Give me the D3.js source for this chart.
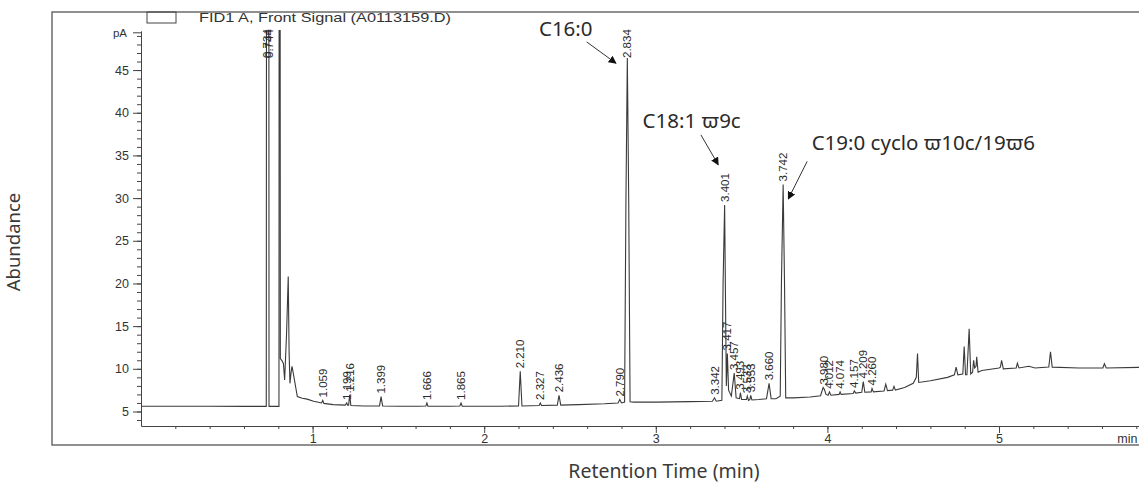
<!DOCTYPE html>
<html>
<head>
<meta charset="utf-8">
<script src="https://cdn.jsdelivr.net/npm/d3@7/dist/d3.min.js"></script>
<style>
  body { margin: 0; background: #fff; }
  svg { display: block; }
  .axis path, .axis line { stroke: #444; }
  .axis text { font-family: "Liberation Sans", Arial, sans-serif; font-size: 12.5px; fill: #333; }
</style>
</head>
<body>
<div id="chart"></div>
<script>
// chromatogram trace: [retention time (min), signal (pA)]
const trace = [
  [0.00, 5.62], [0.40, 5.62], [0.60, 5.60], [0.730, 5.60],
  [0.733, 120], [0.744, 120], [0.746, 5.60], [0.804, 5.60],
  [0.806, 120], [0.809, 120], [0.812, 11.2], [0.823, 10.9], [0.830, 10.6],
  [0.837, 8.7], [0.848, 14.0], [0.858, 20.8], [0.863, 12.0], [0.868, 8.3],
  [0.874, 9.5], [0.880, 10.3], [0.888, 9.4], [0.901, 7.9], [0.911, 6.75],
  [0.940, 6.55], [0.968, 6.45], [1.006, 6.20], [1.040, 6.05], [1.052, 6.00],
  [1.059, 6.30], [1.066, 5.95], [1.120, 5.80], [1.190, 5.75], [1.199, 6.00],
  [1.205, 5.72], [1.210, 5.75], [1.216, 6.95], [1.223, 5.70], [1.300, 5.65],
  [1.390, 5.65], [1.399, 6.75], [1.408, 5.65], [1.500, 5.62], [1.620, 5.62],
  [1.660, 5.65], [1.666, 6.00], [1.672, 5.62], [1.800, 5.62], [1.858, 5.65],
  [1.865, 6.00], [1.872, 5.62], [2.000, 5.62], [2.100, 5.62], [2.200, 5.65],
  [2.210, 9.70], [2.220, 5.65], [2.320, 5.70], [2.327, 6.00], [2.334, 5.70],
  [2.426, 5.75], [2.436, 6.90], [2.446, 5.75], [2.550, 5.80], [2.700, 5.90],
  [2.780, 6.00], [2.790, 6.40], [2.800, 6.00], [2.818, 6.10], [2.826, 30.0],
  [2.834, 46.4], [2.842, 30.0], [2.850, 6.15], [2.870, 6.10], [3.000, 6.10],
  [3.200, 6.15], [3.330, 6.20], [3.342, 6.60], [3.352, 6.20], [3.385, 6.30],
  [3.392, 20.0], [3.401, 29.2], [3.408, 14.0], [3.411, 8.0], [3.417, 11.8],
  [3.424, 7.5], [3.440, 6.8], [3.457, 9.5], [3.468, 6.6], [3.488, 6.5],
  [3.493, 7.2], [3.500, 6.4], [3.528, 6.4], [3.533, 6.8], [3.540, 6.3],
  [3.548, 6.4], [3.553, 6.9], [3.560, 6.35], [3.600, 6.40], [3.645, 6.50],
  [3.660, 8.30], [3.672, 6.50], [3.700, 6.50], [3.725, 6.80], [3.732, 20.0],
  [3.742, 31.6], [3.750, 20.0], [3.757, 6.60], [3.800, 6.60], [3.900, 6.70],
  [3.960, 6.85], [3.975, 7.80], [3.982, 7.60], [3.992, 7.00], [4.004, 6.90],
  [4.012, 7.30], [4.020, 6.90], [4.068, 7.00], [4.074, 7.30], [4.080, 7.00],
  [4.150, 7.10], [4.157, 7.40], [4.165, 7.15], [4.200, 7.25], [4.209, 8.50],
  [4.218, 7.25], [4.255, 7.30], [4.260, 7.70], [4.268, 7.30], [4.330, 7.40],
  [4.340, 8.20], [4.350, 7.45], [4.380, 7.50], [4.388, 7.95], [4.396, 7.50],
  [4.450, 7.80], [4.500, 8.30], [4.518, 9.00], [4.525, 11.8], [4.532, 8.40],
  [4.600, 8.60], [4.700, 9.00], [4.740, 9.30], [4.750, 10.2], [4.760, 9.30],
  [4.789, 9.40], [4.797, 12.6], [4.805, 9.30], [4.813, 9.30], [4.826, 14.7],
  [4.835, 9.40], [4.846, 9.60], [4.852, 11.0], [4.858, 10.1], [4.866, 10.3],
  [4.870, 11.4], [4.878, 9.60], [4.900, 9.80], [5.000, 10.1], [5.008, 10.2],
  [5.015, 11.0], [5.025, 10.0], [5.100, 10.1], [5.107, 10.66], [5.116, 10.1],
  [5.174, 10.3], [5.210, 10.1], [5.290, 10.2], [5.300, 12.0], [5.310, 10.2],
  [5.465, 10.1], [5.605, 10.1], [5.614, 10.6], [5.625, 10.1], [5.900, 10.2]
];

// integrated peaks: retention time and apex height (pA)
const peakTimes = [0.734, 0.744, 1.059, 1.199, 1.216, 1.399, 1.666, 1.865, 2.210, 2.327,
  2.436, 2.790, 2.834, 3.342, 3.401, 3.417, 3.457, 3.493, 3.533, 3.553, 3.660, 3.742,
  3.980, 4.012, 4.074, 4.157, 4.209, 4.260];
const peakHeights = [49.6, 49.6, 6.30, 6.00, 6.95, 6.75, 6.00, 6.00, 9.70, 6.00,
  6.90, 6.40, 46.4, 6.60, 29.2, 11.8, 9.5, 7.2, 6.8, 6.9, 8.30, 31.6,
  7.80, 7.30, 7.30, 7.40, 8.50, 7.70];

// compound annotations: text anchor, arrow start, arrow tip (min, pA)
const annLabels = ["C16:0", "C18:1 \u03d69c", "C19:0 cyclo \u03d610c/19\u03d66"];
const annTextPos = [[2.319, 49.8], [2.923, 39.0], [3.908, 36.5]];
const annArrowFrom = [[2.597, 48.3], [3.263, 37.4], [3.882, 34.3]];
const annArrowTo = [[2.768, 45.8], [3.364, 33.9], [3.772, 29.9]];

const xMajorTicks = [1, 2, 3, 4, 5];
const xMinorTicks = d3.range(0.2, 5.81, 0.2);
const yMajorTicks = [5, 10, 15, 20, 25, 30, 35, 40, 45];
const yMinorTicks = d3.range(4, 50, 1);

const W = 1139, H = 486;
const svg = d3.select("#chart").append("svg")
  .attr("width", W).attr("height", H);

const x = d3.scaleLinear().domain([0, 5.86]).range([141, 1146.6]);
const y = d3.scaleLinear().domain([3.3, 49.6]).range([426, 30.8]);

// outer frame of the report
svg.append("rect")
  .attr("x", 52).attr("y", 12)
  .attr("width", W).attr("height", 433)
  .attr("fill", "none").attr("stroke", "#555").attr("stroke-width", 1.3);

// legend
svg.append("rect")
  .attr("x", 147).attr("y", 12).attr("width", 29).attr("height", 11)
  .attr("fill", "none").attr("stroke", "#444").attr("stroke-width", 1);
svg.append("text")
  .attr("x", 199).attr("y", 22)
  .attr("font-family", "Liberation Sans, Arial, sans-serif")
  .attr("font-size", 13).attr("fill", "#333")
  .attr("textLength", 252).attr("lengthAdjust", "spacingAndGlyphs")
  .text("FID1 A, Front Signal (A0113159.D)");

// axes
svg.append("g").attr("class", "axis")
  .attr("transform", `translate(${x(0)},0)`)
  .call(d3.axisLeft(y).tickValues(yMinorTicks).tickSize(4).tickFormat(""))
  .call(g => g.select(".domain").remove());
svg.append("g").attr("class", "axis")
  .attr("transform", `translate(${x(0)},0)`)
  .call(d3.axisLeft(y).tickValues(yMajorTicks).tickSize(8).tickPadding(4).tickSizeOuter(0));
svg.append("text")
  .attr("x", x(0) - 14).attr("y", y(y.domain()[1]) + 6)
  .attr("text-anchor", "end")
  .attr("font-family", "Liberation Sans, Arial, sans-serif")
  .attr("font-size", 11.5).attr("fill", "#333")
  .text("pA");
svg.append("line")
  .attr("x1", x(0) - 8).attr("x2", x(0))
  .attr("y1", y(y.domain()[1]) + 2).attr("y2", y(y.domain()[1]) + 2)
  .attr("stroke", "#444");

svg.append("g").attr("class", "axis")
  .attr("transform", `translate(0,${y(3.3)})`)
  .call(d3.axisBottom(x).tickValues(xMinorTicks).tickSize(3).tickFormat(""))
  .call(g => g.select(".domain").remove());
svg.append("g").attr("class", "axis")
  .attr("transform", `translate(0,${y(3.3)})`)
  .call(d3.axisBottom(x).tickValues(xMajorTicks).tickSize(7).tickPadding(1)
    .tickFormat(d3.format("d")).tickSizeOuter(0));
svg.append("text")
  .attr("x", x(5.8) - 19).attr("y", y(3.3) + 17)
  .attr("font-family", "Liberation Sans, Arial, sans-serif")
  .attr("font-size", 12.5).attr("fill", "#333")
  .text("min");

// trace
svg.append("clipPath").attr("id", "plot-clip")
  .append("rect").attr("x", x(0)).attr("y", 30)
  .attr("width", W).attr("height", y(3.3) - 30);

svg.append("path")
  .datum(trace)
  .attr("clip-path", "url(#plot-clip)")
  .attr("fill", "none")
  .attr("stroke", "#3a3a3a")
  .attr("stroke-width", 1.1)
  .attr("d", d3.line().x(d => x(d[0])).y(d => y(d[1])));

// peak retention-time labels
svg.append("g").selectAll("text")
  .data(peakTimes)
  .join("text")
  .attr("transform", (d, i) =>
    `translate(${x(d) + 4},${Math.max(y(peakHeights[i]) - 3, 58)}) rotate(-90)`)
  .attr("font-family", "Liberation Sans, Arial, sans-serif")
  .attr("font-size", 11.5).attr("fill", "#2a2a2a")
  .text(d => d3.format(".3f")(d));

// compound annotations
svg.append("defs").append("marker")
  .attr("id", "arrow").attr("viewBox", "0 0 10 10")
  .attr("refX", 9).attr("refY", 5)
  .attr("markerWidth", 8).attr("markerHeight", 8)
  .attr("orient", "auto")
  .append("path").attr("d", "M0,0 L10,5 L0,10 z").attr("fill", "#111");

svg.append("g").selectAll("line")
  .data(annLabels)
  .join("line")
  .attr("x1", (d, i) => x(annArrowFrom[i][0]))
  .attr("y1", (d, i) => y(annArrowFrom[i][1]))
  .attr("x2", (d, i) => x(annArrowTo[i][0]))
  .attr("y2", (d, i) => y(annArrowTo[i][1]))
  .attr("stroke", "#333").attr("stroke-width", 1)
  .attr("marker-end", "url(#arrow)");

svg.append("g").selectAll("text")
  .data(annLabels)
  .join("text")
  .attr("x", (d, i) => x(annTextPos[i][0]))
  .attr("y", (d, i) => y(annTextPos[i][1]))
  .attr("dy", "0.35em")
  .attr("font-family", "Noto Sans, sans-serif")
  .attr("font-size", 20.5).attr("fill", "#2a2a2a")
  .text(d => d);

// axis titles
svg.append("text")
  .attr("transform", "translate(20,242) rotate(-90)")
  .attr("text-anchor", "middle")
  .attr("font-family", "Noto Sans, sans-serif")
  .attr("font-size", 18.5).attr("fill", "#3a3a3a")
  .text("Abundance");
svg.append("text")
  .attr("x", 664).attr("y", 478)
  .attr("text-anchor", "middle")
  .attr("font-family", "Noto Sans, sans-serif")
  .attr("font-size", 19.5).attr("fill", "#3a3a3a")
  .text("Retention Time (min)");
</script>
</body>
</html>
